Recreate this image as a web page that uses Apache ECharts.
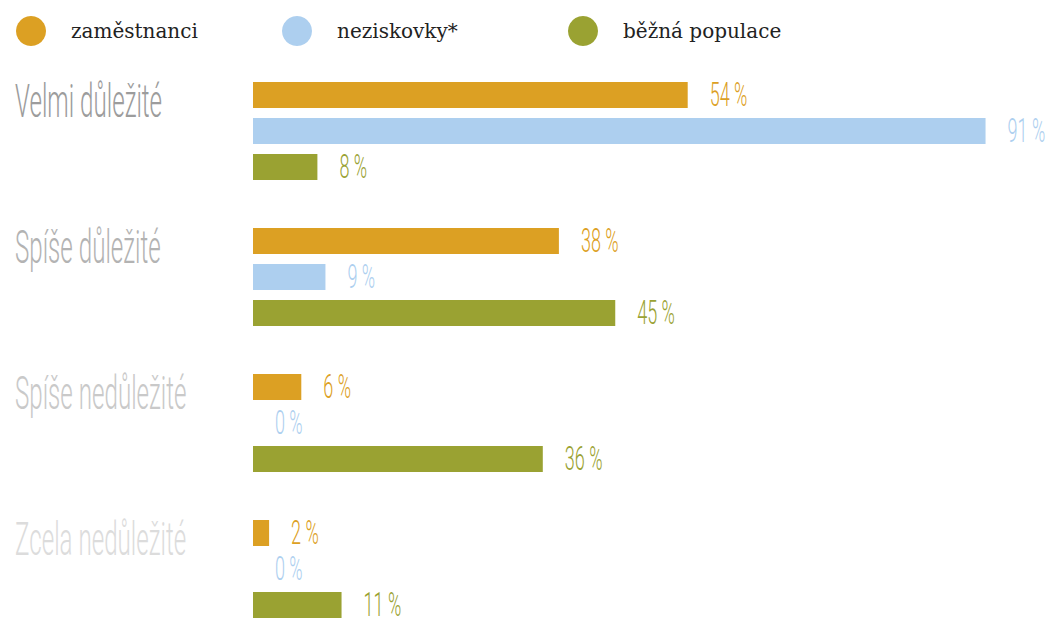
<!DOCTYPE html>
<html>
<head>
<meta charset="utf-8">
<title>Důležitost</title>
<script src="https://cdn.jsdelivr.net/npm/echarts@6/dist/echarts.min.js"></script>
<style>
  html, body { margin: 0; padding: 0; background: #fff; }
  #chart { width: 1050px; height: 618px; }
</style>
</head>
<body>
<div id="chart"></div>
<script>
var categories = ['Velmi důležité', 'Spíše důležité', 'Spíše nedůležité', 'Zcela nedůležité']
var seriesNames = ['zaměstnanci', 'neziskovky*', 'běžná populace']
var employees = [54, 38, 6, 2]
var nonprofits = [91, 9, 0, 0]
var population = [8, 45, 36, 11]

var colors = ['#DCA023', '#ADCFEF', '#9AA232']
var categoryColors = ['#9c9c9c', '#b3b3b3', '#c9c9c9', '#dcdcdc']
var thin = 'Roboto, "DejaVu Sans", sans-serif'
var legendLefts = [16, 282, 568]

var values = [employees, nonprofits, population]

var barSeries = values.map(function (data, s) {
  return {
    name: seriesNames[s],
    type: 'bar',
    barWidth: 26,
    barGap: '38.5%',
    itemStyle: { color: colors[s] },
    emphasis: { disabled: true },
    data: data
  }
})

// value labels: tall thin text, squeezed horizontally
var labelSeries = values.map(function (data, s) {
  return {
    name: seriesNames[s],
    type: 'custom',
    silent: true,
    clip: false,
    encode: { x: 0, y: 1 },
    data: data.map(function (v, i) { return [v, i] }),
    renderItem: function (params, api) {
      var pt = api.coord([api.value(0), api.value(1)])
      return {
        type: 'text',
        x: pt[0] + 22,
        y: pt[1] + (s - 1) * 36,
        scaleX: 0.53,
        style: {
          text: api.value(0) + ' %',
          fill: colors[s],
          font: '300 34px ' + thin,
          align: 'left',
          verticalAlign: 'middle'
        }
      }
    }
  }
})

var categorySeries = {
  type: 'custom',
  silent: true,
  clip: false,
  encode: { x: 0, y: 1 },
  data: categories.map(function (c, i) { return [0, i] }),
  renderItem: function (params, api) {
    var i = api.value(1)
    var pt = api.coord([0, i])
    return {
      type: 'text',
      x: 15,
      y: pt[1] - 30,
      scaleX: 0.514,
      style: {
        text: categories[i],
        fill: categoryColors[i],
        font: '300 47px ' + thin,
        align: 'left',
        verticalAlign: 'middle'
      }
    }
  }
}

var legends = seriesNames.map(function (name, s) {
  return {
    left: legendLefts[s],
    top: 16,
    padding: 0,
    icon: 'circle',
    itemWidth: 30,
    itemHeight: 30,
    itemGap: 0,
    selectedMode: false,
    textStyle: {
      color: '#222',
      fontSize: 20,
      padding: [0, 0, 0, 20],
      fontFamily: '"DejaVu Serif", serif'
    },
    data: [{ name: name, itemStyle: { color: colors[s] } }]
  }
})

var chart = echarts.init(document.getElementById('chart'), null, { renderer: 'svg' })

chart.setOption({
  animation: false,
  legend: legends,
  grid: {
    left: 253,
    width: 805,
    top: 58,
    height: 584,
    outerBoundsMode: 'none',
    containLabel: false
  },
  xAxis: {
    type: 'value',
    min: 0,
    max: 100,
    show: false
  },
  yAxis: {
    type: 'category',
    inverse: true,
    data: categories,
    axisLine: { show: false },
    axisTick: { show: false },
    axisLabel: { show: false },
    splitLine: { show: false }
  },
  series: barSeries.concat(labelSeries, [categorySeries])
})
</script>
</body>
</html>
